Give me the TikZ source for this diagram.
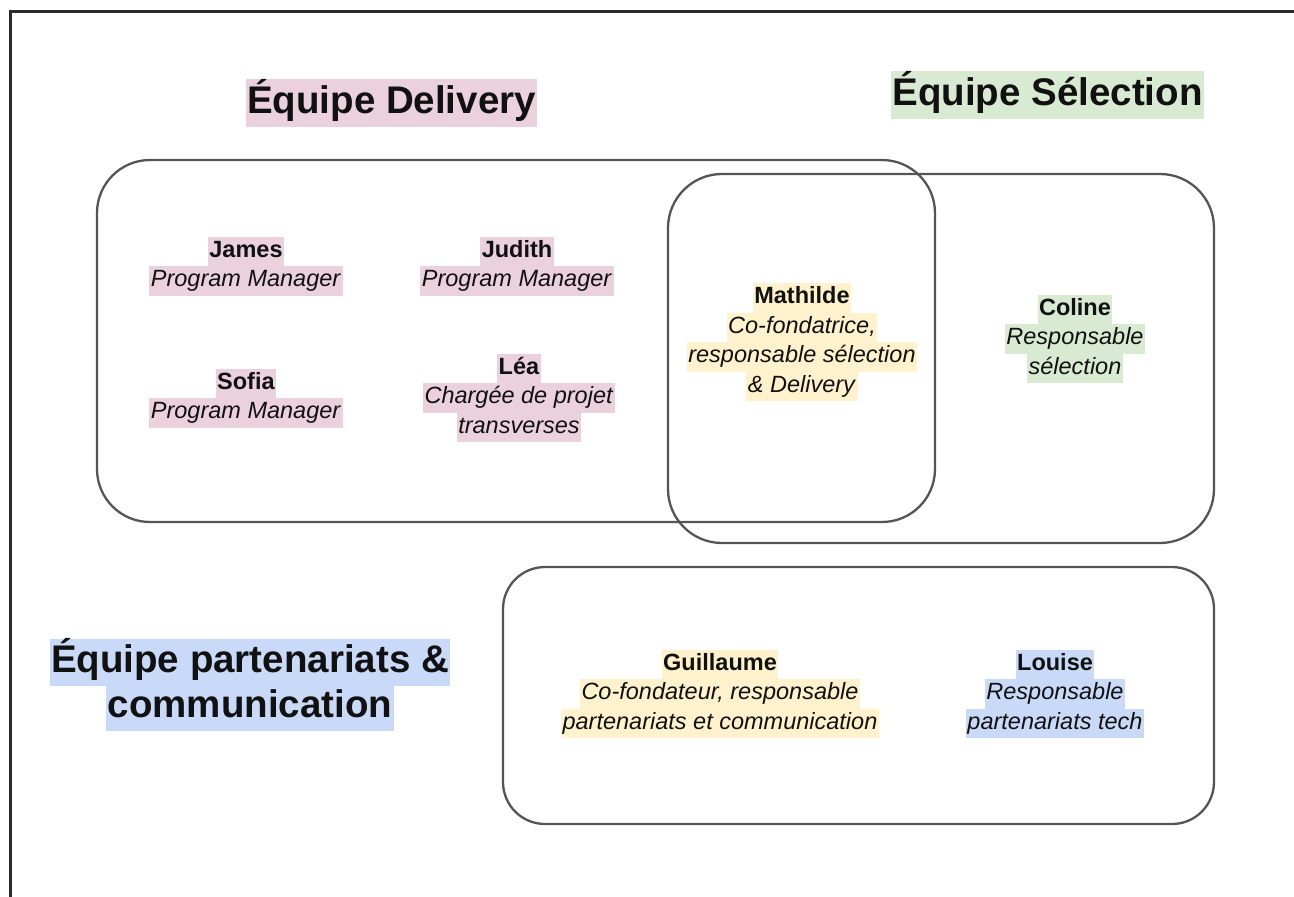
\documentclass[tikz,border=0pt]{standalone}
\usepackage{fontspec}
\setmainfont{Liberation Sans}
\definecolor{hlpink}{HTML}{EAD1DC}
\definecolor{hlgreen}{HTML}{D9EAD3}
\definecolor{hlblue}{HTML}{C9DAF8}
\definecolor{hlyellow}{HTML}{FFF2CC}
\definecolor{ink}{HTML}{111111}
\definecolor{boxgray}{HTML}{555555}
\definecolor{framegray}{HTML}{2B2B2B}
\newcommand\hlx[2]{{\setlength\fboxsep{0pt}\colorbox{#1}{\strut\hspace{1.5pt}#2\hspace{1.5pt}}}}
\begin{document}
\begin{tikzpicture}[x=1pt,y=-1pt,
  teambox/.style={draw=boxgray, line width=2.3pt, inner sep=0pt},
  person/.style={align=center, inner sep=0pt, text=ink, font=\fontsize{23.5}{29.5}\selectfont},
  teamtitle/.style={align=center, inner sep=0pt, text=ink, font=\fontsize{38.5}{45}\selectfont\bfseries}]
\useasboundingbox (0,0) rectangle (1294,897);
% frame
\draw[framegray, line width=3pt] (10,897) -- (10,11) -- (1294,11);
% team boxes
\node[teambox, rounded corners=53pt, minimum width=838pt, minimum height=362pt] (delivery) at (516,341) {};
\node[teambox, rounded corners=54pt, minimum width=546pt, minimum height=369pt] (selection) at (941,358.5) {};
\node[teambox, rounded corners=42pt, minimum width=711pt, minimum height=257pt] (partenariats) at (858.5,695.5) {};
% titles
\node[teamtitle] (tdel) at (391.5,103) {\hlx{hlpink}{Équipe Delivery}};
\node[teamtitle] (tsel) at (1047.5,95) {\hlx{hlgreen}{Équipe Sélection}};
\node[teamtitle] (tpart) at (250,685) {\hlx{hlblue}{Équipe partenariats \&}\\\hlx{hlblue}{communication}};
% people
\node[person] (james) at (246,266) {\hlx{hlpink}{\textbf{James}}\\\hlx{hlpink}{\textit{Program Manager}}};
\node[person] (judith) at (517,266) {\hlx{hlpink}{\textbf{Judith}}\\\hlx{hlpink}{\textit{Program Manager}}};
\node[person] (sofia) at (246,398) {\hlx{hlpink}{\textbf{Sofia}}\\\hlx{hlpink}{\textit{Program Manager}}};
\node[person] (lea) at (519,398) {\hlx{hlpink}{\textbf{Léa}}\\\hlx{hlpink}{\textit{Chargée de projet}}\\\hlx{hlpink}{\textit{transverses}}};
\node[person] (mathilde) at (802,342) {\hlx{hlyellow}{\textbf{Mathilde}}\\\hlx{hlyellow}{\textit{Co-fondatrice,}}\\\hlx{hlyellow}{\textit{responsable sélection}}\\\hlx{hlyellow}{\textit{\& Delivery}}};
\node[person] (coline) at (1075,339) {\hlx{hlgreen}{\textbf{Coline}}\\\hlx{hlgreen}{\textit{Responsable}}\\\hlx{hlgreen}{\textit{sélection}}};
\node[person] (guillaume) at (720,694) {\hlx{hlyellow}{\textbf{Guillaume}}\\\hlx{hlyellow}{\textit{Co-fondateur, responsable}}\\\hlx{hlyellow}{\textit{partenariats et communication}}};
\node[person] (louise) at (1055,694) {\hlx{hlblue}{\textbf{Louise}}\\\hlx{hlblue}{\textit{Responsable}}\\\hlx{hlblue}{\textit{partenariats tech}}};
\end{tikzpicture}
\end{document}
